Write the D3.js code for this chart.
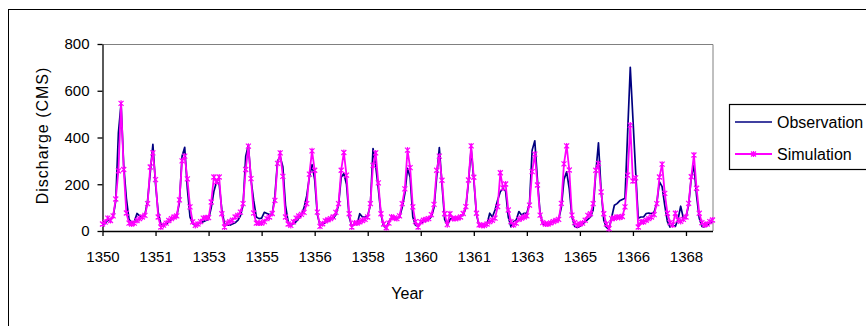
<!DOCTYPE html>
<html>
<head>
<meta charset="utf-8">
<script src="https://cdn.jsdelivr.net/npm/d3@7"></script>
<style>
  html, body { margin: 0; padding: 0; background: #fff; }
  svg { display: block; }
  text { font-family: "Liberation Sans", Arial, sans-serif; fill: #000; }
</style>
</head>
<body>
<svg id="chart" width="866" height="326"></svg>
<script>
// ---- Data (monthly discharge, CMS) ----
const observation = [
  25, 35, 45, 50, 60, 130, 420, 545, 280, 140, 50, 35,
  40, 75, 65, 60, 70, 130, 250, 371, 200, 80, 30, 25,
  30, 40, 50, 55, 65, 120, 320, 358, 180, 60, 30, 25,
  30, 35, 40, 45, 50, 100, 170, 210, 200, 90, 30, 25,
  25, 30, 35, 45, 65, 110, 320, 367, 220, 131, 60, 53,
  55, 80, 75, 70, 72, 150, 300, 318, 275, 110, 40, 25,
  30, 40, 55, 70, 100, 150, 230, 284, 220, 70, 25, 30,
  35, 45, 50, 55, 70, 110, 230, 246, 200, 60, 20, 30,
  30, 74, 60, 60, 65, 110, 353, 280, 180, 70, 20, 15,
  40, 55, 55, 55, 60, 100, 160, 268, 230, 60, 25, 20,
  35, 40, 45, 50, 60, 100, 230, 357, 200, 50, 25, 50,
  55, 50, 55, 60, 70, 100, 210, 350, 220, 70, 25, 25,
  25, 30, 76, 60, 90, 133, 168, 183, 170, 60, 18, 40,
  47, 83, 68, 76, 76, 118, 346, 386, 218, 76, 30, 25,
  30, 35, 40, 45, 50, 100, 220, 253, 180, 60, 20, 15,
  20, 30, 40, 50, 60, 90, 250, 377, 174, 46, 15, 10,
  60, 110, 117, 129, 135, 140, 420, 700, 480, 260, 55, 60,
  60, 75, 77, 74, 81, 120, 210, 190, 110, 40, 17, 25,
  20, 50, 106, 55, 60, 110, 230, 281, 150, 55, 20, 18, 25, 35, 40
];
const simulation = [
  30, 38, 55, 45, 65, 137, 257, 546, 263, 77, 34, 30,
  34, 45, 53, 60, 67, 117, 274, 334, 220, 60, 17, 25,
  34, 45, 53, 60, 65, 133, 300, 320, 223, 103, 39, 24,
  30, 40, 55, 57, 57, 124, 231, 210, 231, 74, 17, 34,
  40, 46, 60, 67, 81, 117, 263, 363, 224, 77, 34, 34,
  34, 40, 53, 60, 75, 131, 289, 334, 234, 60, 30, 24,
  39, 55, 64, 71, 80, 117, 243, 343, 260, 81, 20, 31,
  43, 48, 53, 60, 80, 117, 260, 336, 239, 74, 17, 34,
  34, 39, 45, 50, 60, 117, 281, 334, 206, 74, 30, 14,
  34, 60, 56, 53, 65, 117, 180, 346, 271, 103, 40, 17,
  39, 46, 50, 53, 70, 114, 260, 320, 217, 74, 27, 74,
  53, 53, 55, 60, 75, 104, 218, 364, 230, 76, 26, 24,
  24, 30, 40, 46, 55, 104, 249, 184, 201, 90, 40, 26,
  34, 50, 55, 60, 65, 111, 254, 329, 197, 68, 36, 30,
  30, 35, 40, 45, 50, 118, 287, 364, 261, 68, 36, 25,
  30, 34, 46, 67, 74, 117, 260, 289, 167, 74, 30, 10,
  53, 55, 60, 58, 62, 103, 239, 453, 214, 227, 17, 39,
  39, 46, 53, 60, 70, 117, 231, 286, 161, 76, 36, 26,
  76, 47, 41, 50, 60, 118, 232, 325, 183, 76, 36, 26, 30, 40, 47
];
const tickLabels = ["1350", "1351", "1353", "1355", "1356", "1358", "1360", "1361", "1363", "1365", "1366", "1368"];
const tickEvery = 20; // categories between labelled ticks
const yTicks = [0, 200, 400, 600, 800];
const seriesNames = ["Observation", "Simulation"];

// ---- Layout ----
const svg = d3.select("#chart");
const plot = { left: 102.5, right: 712.5, top: 44, bottom: 231 };
const TICK_FONT = "15px";
const FONT = "16px";

// outer chart frame
svg.append("rect")
  .attr("x", 8.5).attr("y", 9.5).attr("width", 1000).attr("height", 500)
  .attr("fill", "#fff").attr("stroke", "#000").attr("stroke-width", 1);

const x = d3.scaleLinear().domain([0, simulation.length - 1]).range([plot.left, plot.right]);
const y = d3.scaleLinear().domain([0, 800]).range([plot.bottom, plot.top]);

// plot area border (top/right in grey)
svg.append("path")
  .attr("d", `M${plot.left},${plot.top + 0.5}H${plot.right + 0.5}V${plot.bottom}`)
  .attr("fill", "none").attr("stroke", "#808080").attr("stroke-width", 1);

// Y axis
const yAxis = svg.append("g")
  .attr("transform", `translate(${plot.left},0)`)
  .call(d3.axisLeft(y).tickValues(yTicks).tickSize(5).tickPadding(8).tickSizeOuter(0));
yAxis.select(".domain").attr("stroke", "#000").attr("stroke-width", 1.3);
yAxis.selectAll(".tick line").attr("stroke", "#000").attr("stroke-width", 1.3);
yAxis.selectAll(".tick text").style("font-size", TICK_FONT).style("font-family", "Liberation Sans, Arial, sans-serif");

// X axis
const xTickVals = tickLabels.map((_, i) => i * tickEvery);
const xAxis = svg.append("g")
  .attr("transform", `translate(0,${plot.bottom})`)
  .call(d3.axisBottom(x).tickValues(xTickVals)
    .tickFormat((d, i) => tickLabels[i]).tickSize(5).tickPadding(15).tickSizeOuter(0));
xAxis.select(".domain").attr("stroke", "#000").attr("stroke-width", 1.3);
xAxis.selectAll(".tick line").attr("stroke", "#000").attr("stroke-width", 1.3);
xAxis.selectAll(".tick text").style("font-size", TICK_FONT).style("font-family", "Liberation Sans, Arial, sans-serif");

// Axis titles
svg.append("text")
  .attr("x", (plot.left + plot.right) / 2).attr("y", 299)
  .attr("text-anchor", "middle").style("font-size", FONT)
  .text("Year");
svg.append("text")
  .attr("transform", `translate(48,${(plot.top + plot.bottom) / 2 - 2}) rotate(-90)`)
  .attr("text-anchor", "middle").style("font-size", FONT).style("letter-spacing", "1px")
  .text("Discharge (CMS)");

// Lines
const line = d3.line().x((d, i) => x(i)).y(d => y(d));
svg.append("path").datum(observation)
  .attr("d", line).attr("fill", "none")
  .attr("stroke", "#000080").attr("stroke-width", 1.7).attr("stroke-linejoin", "round");
svg.append("path").datum(simulation)
  .attr("d", line).attr("fill", "none")
  .attr("stroke", "#FF00FF").attr("stroke-width", 1.8).attr("stroke-linejoin", "round");

// Star markers for simulation
const star = "M-2.5,-2.5L2.5,2.5M-2.5,2.5L2.5,-2.5M0,-3L0,3";
svg.append("g").selectAll("path").data(simulation).join("path")
  .attr("transform", (d, i) => `translate(${x(i)},${y(d)})`)
  .attr("d", star).attr("fill", "none")
  .attr("stroke", "#FF00FF").attr("stroke-width", 1.2);

// Legend
const lg = svg.append("g");
lg.append("rect").attr("x", 729.5).attr("y", 104.5).attr("width", 300).attr("height", 65)
  .attr("fill", "#fff").attr("stroke", "#000").attr("stroke-width", 1.2);
const legendItems = [
  { name: seriesNames[0], color: "#000080", y: 122, marker: false },
  { name: seriesNames[1], color: "#FF00FF", y: 154, marker: true }
];
legendItems.forEach(it => {
  lg.append("line").attr("x1", 735).attr("x2", 772).attr("y1", it.y).attr("y2", it.y)
    .attr("stroke", it.color).attr("stroke-width", it.marker ? 1.8 : 1.7);
  if (it.marker) {
    lg.append("path").attr("transform", `translate(753.5,${it.y})`).attr("d", star)
      .attr("fill", "none").attr("stroke", it.color).attr("stroke-width", 1.2);
  }
  lg.append("text").attr("x", 777).attr("y", it.y).attr("dy", "0.35em")
    .style("font-size", FONT).text(it.name);
});
</script>
</body>
</html>
